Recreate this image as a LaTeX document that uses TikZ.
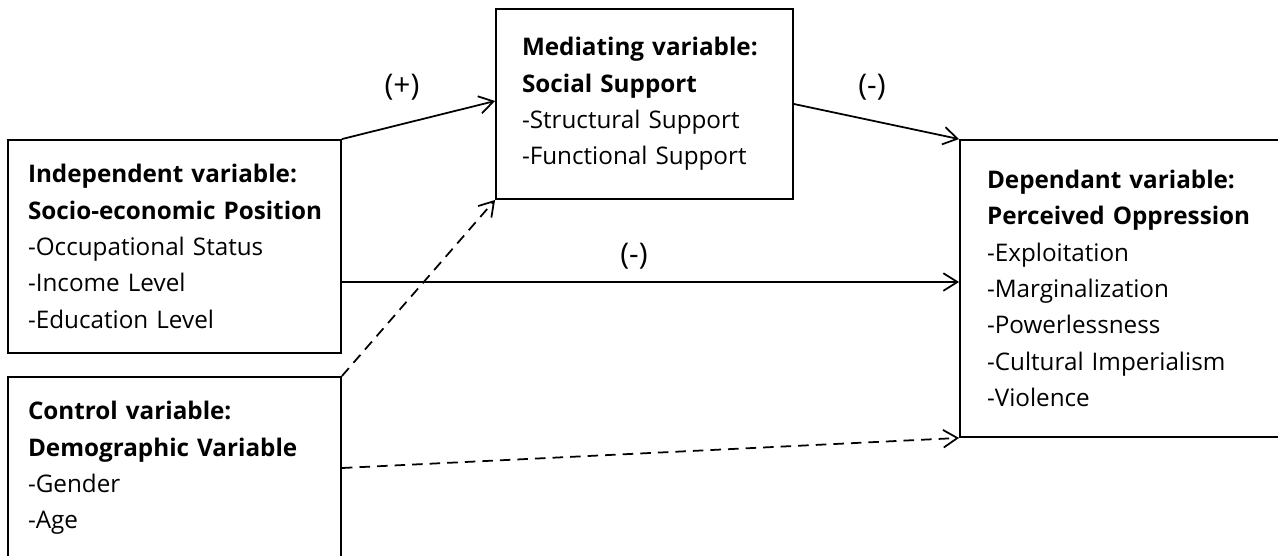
\documentclass[tikz,border=0pt]{standalone}
\usepackage{fontspec}
\setmainfont{Open Sans}
\usetikzlibrary{arrows.meta, positioning}

\begin{document}
\begin{tikzpicture}[x=0.02cm, y=-0.02cm,
		box/.style={draw=black, line width=1.1pt, align=left, inner ysep=0pt,
			font=\fontsize{13.8}{20.7}\selectfont},
		arr/.style={line width=1pt, -{Straight Barb[length=8pt, width=10pt]}},
		darr/.style={arr, dash pattern=on 6pt off 4pt},
		sign/.style={font=\fontsize{17}{20}\selectfont}]
				\useasboundingbox (0,0) rectangle (1278,555);
				% Variable boxes
				\node[box, minimum width=6.66cm, minimum height=4.26cm, text width=5.86cm, inner xsep=0.4cm] (indep) at (174.5,246.5)
					{\textbf{Independent variable:}\\ \mbox{\textbf{Socio-economic Position}}\\ -Occupational Status\\ -Income Level\\ -Education Level};
				\node[box, minimum width=6.66cm, minimum height=3.64cm, text width=5.86cm, inner xsep=0.4cm] (ctrl) at (174.5,468)
					{\textbf{Control variable:}\\ \textbf{Demographic Variable}\\ -Gender\\ -Age};
				\node[box, minimum width=5.94cm, minimum height=3.8cm, text width=4.9cm, inner xsep=0.52cm] (med) at (644.5,104)
					{\textbf{Mediating variable:}\\ \textbf{Social Support}\\ -Structural Support\\ -Functional Support};
				\node[box, minimum width=6.5cm, minimum height=5.94cm, text width=5.42cm, inner xsep=0.54cm] (dep) at (1122.5,288.5)
					{\textbf{Dependant variable:}\\ \textbf{Perceived Oppression}\\ -Exploitation\\ -Marginalization\\ -Powerlessness\\ -Cultural Imperialism\\ -Violence};
				% Paths between the variables
				\draw[arr] (indep.north east) -- ([yshift=0.06cm]med.west);
				\draw[arr] (med.east) -- (dep.north west);
				\draw[arr] (indep.east |- 0,282) -- ([yshift=0.13cm]dep.west);
				\draw[darr] (ctrl.north east) -- (med.south west);
				\draw[darr] (ctrl.east) -- (dep.south west);
				% Signs of the effects
				\node[sign] (plus) at (402,87) {(+)};
				\node[sign] (minusa) at (872,87) {(-)};
				\node[sign] (minusb) at (634,256) {(-)};
			\end{tikzpicture}
\end{document}
